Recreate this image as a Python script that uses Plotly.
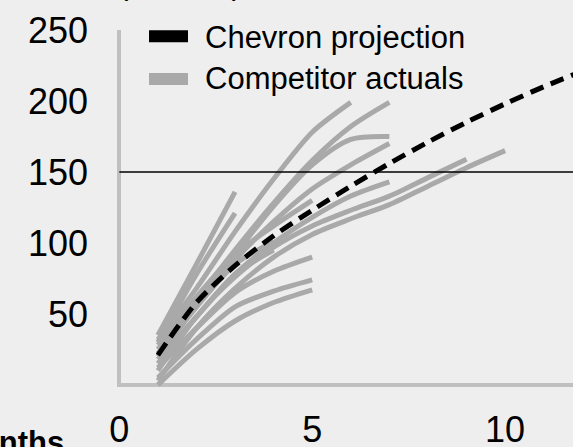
import plotly.graph_objects as go

# ---------------- data ----------------
proj_months = [1, 2, 3, 4, 5, 6, 7, 8, 9, 10, 11, 12]
chevron_projection = [21, 58, 84, 105, 123, 140, 156, 171, 185, 198, 210, 221]

comp_a = [32, 68, 108, 145, 178, 199]
comp_b = [25, 60, 95, 128, 158, 182, 199]
comp_c = [22, 58, 92, 126, 155, 173, 175]
comp_d = [20, 55, 88, 115, 138, 155, 170]
comp_e = [35, 85, 136]
comp_f = [30, 78, 121]
comp_g = [15, 48, 78, 100, 118, 133, 143]
comp_h = [28, 62, 92, 112, 130]
comp_i = [12, 40, 65, 80, 90]
comp_j = [5, 32, 55, 66, 74]
comp_k = [0, 25, 45, 58, 67]
comp_l = [22, 55, 85, 101]
comp_m = [18, 48, 78, 95]
comp_n = [10, 48, 76, 97, 112, 123, 133, 146, 159]
comp_o = [3, 40, 68, 90, 106, 117, 127, 140, 153, 165]
competitors = [comp_a, comp_b, comp_c, comp_d, comp_e, comp_f, comp_g, comp_h,
               comp_i, comp_j, comp_k, comp_l, comp_m, comp_n, comp_o]

y_ticks = [50, 100, 150, 200, 250]
x_ticks = [0, 5, 10]
reference_level = 150

legend_labels = ["Chevron projection", "Competitor actuals"]
y_unit_label = "(Mboe/d)"
x_axis_label = "Months"

# ---------------- layout constants ----------------
W, H = 573, 447
ML, MR, MT, MB = 117, 0, 30, 60
PW, PH = W - ML - MR, H - MT - MB
BG = "#eeeeee"
GRAY = "#a9a9a9"
AXIS_GRAY = "#c0c0c0"
FONT = "Arial, Liberation Sans, sans-serif"


def px_x(px):
    return (px - ML) / PW


def px_y(py):
    return (H - MB - py) / PH


fig = go.Figure()

for series in competitors:
    fig.add_trace(go.Scatter(
        x=proj_months[:len(series)], y=series, mode="lines",
        line=dict(color=GRAY, width=5, shape="spline", smoothing=0.8),
        showlegend=False, hoverinfo="skip"))

fig.add_trace(go.Scatter(
    x=proj_months, y=chevron_projection, mode="lines",
    line=dict(color="black", width=5, dash="14px,8px", shape="spline", smoothing=0.8),
    showlegend=False, hoverinfo="skip"))

shapes = [
    dict(type="line", xref="x", yref="y", x0=0, x1=20,
         y0=reference_level, y1=reference_level,
         line=dict(color="black", width=1.5), layer="above"),
    # manual legend swatches
    dict(type="line", xref="paper", yref="paper", x0=px_x(149), x1=px_x(188),
         y0=px_y(36.3), y1=px_y(36.3), line=dict(color="black", width=12)),
    dict(type="line", xref="paper", yref="paper", x0=px_x(149), x1=px_x(188),
         y0=px_y(79), y1=px_y(79), line=dict(color=GRAY, width=12)),
]

annotations = [
    dict(text=legend_labels[0], xref="paper", yref="paper", x=px_x(203), y=px_y(37.5),
         xanchor="left", yanchor="middle", showarrow=False,
         font=dict(size=31, color="black", family=FONT)),
    dict(text=legend_labels[1], xref="paper", yref="paper", x=px_x(203), y=px_y(78.5),
         xanchor="left", yanchor="middle", showarrow=False,
         font=dict(size=31, color="black", family=FONT)),
    dict(text=y_unit_label, xref="paper", yref="paper", x=px_x(180), y=px_y(3),
         xanchor="center", yanchor="bottom", showarrow=False,
         font=dict(size=31, color="black", family=FONT)),
    dict(text="<b>" + x_axis_label + "</b>", xref="paper", yref="paper", x=px_x(66), y=px_y(423),
         xanchor="right", yanchor="top", showarrow=False,
         font=dict(size=31, color="black", family=FONT)),
]

fig.update_layout(
    width=W, height=H,
    margin=dict(l=ML, r=MR, t=MT, b=MB, pad=0, autoexpand=False),
    paper_bgcolor=BG, plot_bgcolor=BG,
    font=dict(family=FONT, color="black"),
    shapes=shapes, annotations=annotations,
    showlegend=False,
)
fig.update_xaxes(
    range=[-0.06, 11.76], tickvals=x_ticks, ticktext=[str(v) for v in x_ticks],
    showgrid=False, showline=False,
    zeroline=True, zerolinecolor=AXIS_GRAY, zerolinewidth=4,
    automargin=False,
    ticks="", tickfont=dict(size=36, color="black", family=FONT), ticklabelstandoff=18)
fig.update_yaxes(
    range=[-1.5, 250], tickvals=y_ticks, ticktext=[str(v) for v in y_ticks],
    showgrid=False, showline=False,
    zeroline=True, zerolinecolor=AXIS_GRAY, zerolinewidth=4,
    automargin=False,
    ticks="", tickfont=dict(size=36, color="black", family=FONT), ticklabelstandoff=28)

fig.write_html(
    "out.html",
    config={"displayModeBar": False},
    post_script="document.body.style.margin='0';document.body.style.overflow='hidden';"
                "document.body.style.background='#eeeeee';")
